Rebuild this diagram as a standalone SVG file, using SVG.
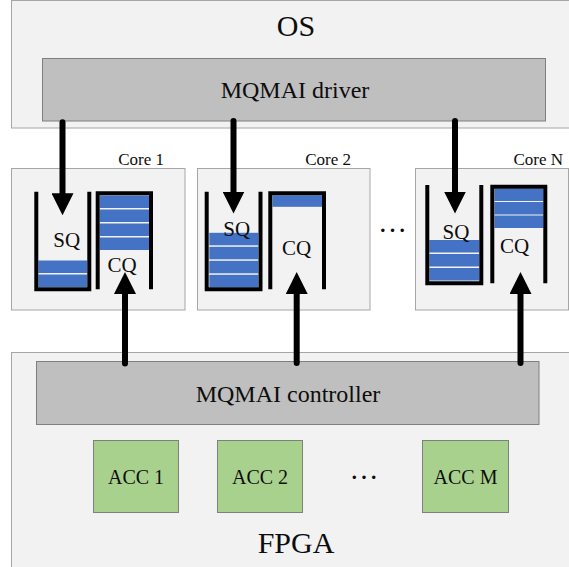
<svg xmlns="http://www.w3.org/2000/svg" width="569" height="567" viewBox="0 0 569 567">
  <defs>
    <style>
      .panel { fill: #f2f2f2; stroke: #a6a6a6; stroke-width: 1; }
      .bar { fill: #bfbfbf; stroke: #7f7f7f; stroke-width: 1; }
      .acc { fill: #a9d18e; stroke: #7f7f7f; stroke-width: 1; }
      .wall { fill: none; stroke: #000; stroke-width: 4; stroke-linejoin: miter; }
      .item { fill: #4472c4; }
      text { font-family: 'Liberation Serif', 'DejaVu Serif', serif; fill: #0d0d0d; text-anchor: middle; }
      .big { font-size: 30px; }
      .mid { font-size: 24px; }
      .q { font-size: 21px; }
      .acc-t { font-size: 20px; }
      .core-t { font-size: 17px; text-anchor: end; }
      .dots { font-size: 29px; }
      .link { stroke: #000; stroke-width: 6; stroke-linecap: round; fill: none; marker-end: url(#head); }
    </style>
    <marker id="head" viewBox="0 0 22 22" refX="0" refY="11" markerWidth="22" markerHeight="22" markerUnits="userSpaceOnUse" orient="auto">
      <path d="M0,0 L22,11 L0,22 z" fill="#000"/>
    </marker>
  </defs>

  <!-- Host side -->
  <g id="os">
    <rect class="panel" x="11.5" y="0.5" width="570" height="127.5"/>
    <text class="big" x="296" y="36" font-family="Liberation Serif, DejaVu Serif, serif">OS</text>
  </g>
  <g id="driver">
    <rect class="bar" x="42.5" y="58.5" width="503" height="62.5"/>
    <text class="mid" x="295" y="98" font-family="Liberation Serif, DejaVu Serif, serif">MQMAI driver</text>
  </g>

  <!-- Core 1 -->
  <g id="core1">
    <rect class="panel" x="11.5" y="168.5" width="173.5" height="141.5"/>
    <text class="core-t" x="164" y="165">Core 1</text>
    <g id="core1-sq">
      <rect class="item" x="38.3" y="260.5" width="49" height="12.5"/>
      <rect class="item" x="38.3" y="274.5" width="49" height="12.5"/>
      <path class="wall" d="M36.3,191.7 V289.2 H89.3 V191.7"/>
      <text class="q" x="66.7" y="247">SQ</text>
    </g>
    <g id="core1-cq">
      <rect class="item" x="99.7" y="195.5" width="49.3" height="12.5"/>
      <rect class="item" x="99.7" y="209.5" width="49.3" height="12.5"/>
      <rect class="item" x="99.7" y="223.5" width="49.3" height="12.5"/>
      <rect class="item" x="99.7" y="237.5" width="49.3" height="12.5"/>
      <path class="wall" d="M97.7,289.3 V193.3 H151 V289.3"/>
      <text class="q" x="122" y="271.5">CQ</text>
    </g>
  </g>

  <!-- Core 2 -->
  <g id="core2">
    <rect class="panel" x="197.5" y="168.5" width="172.5" height="141.5"/>
    <text class="core-t" x="351" y="165">Core 2</text>
    <g id="core2-sq">
      <rect class="item" x="209.3" y="232.8" width="49" height="12.5"/>
      <rect class="item" x="209.3" y="246.8" width="49" height="12.5"/>
      <rect class="item" x="209.3" y="260.8" width="49" height="12.5"/>
      <rect class="item" x="209.3" y="274.8" width="49" height="12.5"/>
      <path class="wall" d="M206.7,191.7 V289.2 H260.5 V191.7"/>
      <text class="q" x="236.7" y="236">SQ</text>
    </g>
    <g id="core2-cq">
      <rect class="item" x="272.5" y="195.3" width="49.5" height="11.5"/>
      <path class="wall" d="M270.3,289.3 V193.3 H324 V289.3"/>
      <text class="q" x="296.5" y="255">CQ</text>
    </g>
  </g>

  <text class="dots" x="392.5" y="231.5">…</text>

  <!-- Core N -->
  <g id="coreN">
    <rect class="panel" x="415.5" y="168.5" width="153" height="141.5"/>
    <text class="core-t" x="563" y="165">Core N</text>
    <g id="coreN-sq">
      <rect class="item" x="429.3" y="240" width="50" height="12.5"/>
      <rect class="item" x="429.3" y="254" width="50" height="12.5"/>
      <rect class="item" x="429.3" y="268" width="50" height="12.5"/>
      <path class="wall" d="M427.3,185 V283.3 H481.3 V185"/>
      <text class="q" x="456" y="239.3">SQ</text>
    </g>
    <g id="coreN-cq">
      <rect class="item" x="494.5" y="188.5" width="49" height="12.5"/>
      <rect class="item" x="494.5" y="202" width="49" height="12.5"/>
      <rect class="item" x="494.5" y="215.5" width="49" height="12.5"/>
      <path class="wall" d="M492.3,283.3 V186.7 H545.3 V283.3"/>
      <text class="q" x="514.5" y="253.3">CQ</text>
    </g>
  </g>

  <!-- Device side -->
  <g id="fpga">
    <rect class="panel" x="11.5" y="352.5" width="570" height="220"/>
    <text class="big" x="296" y="553">FPGA</text>
  </g>
  <g id="controller">
    <rect class="bar" x="36.5" y="361.5" width="502.5" height="63"/>
    <text class="mid" x="288" y="401.5">MQMAI controller</text>
  </g>
  <g id="acc1">
    <rect class="acc" x="93.5" y="440.5" width="85" height="72"/>
    <text class="acc-t" x="136" y="484">ACC 1</text>
  </g>
  <g id="acc2">
    <rect class="acc" x="217.5" y="440.5" width="85" height="72"/>
    <text class="acc-t" x="260" y="484">ACC 2</text>
  </g>
  <text class="dots" x="364" y="478.5">…</text>
  <g id="accM">
    <rect class="acc" x="422.5" y="440.5" width="86" height="72"/>
    <text class="acc-t" x="465.5" y="484">ACC M</text>
  </g>

  <!-- Submissions go down into SQs, completions come up into CQs -->
  <g id="connectors">
    <path class="link" d="M62.5,122.3 V193.3"/>
    <path class="link" d="M233.5,121 V191.5"/>
    <path class="link" d="M455,121 V191.5"/>
    <path class="link" d="M125,363.5 V294"/>
    <path class="link" d="M296.7,363 V294"/>
    <path class="link" d="M520.5,363 V294"/>
  </g>
</svg>
